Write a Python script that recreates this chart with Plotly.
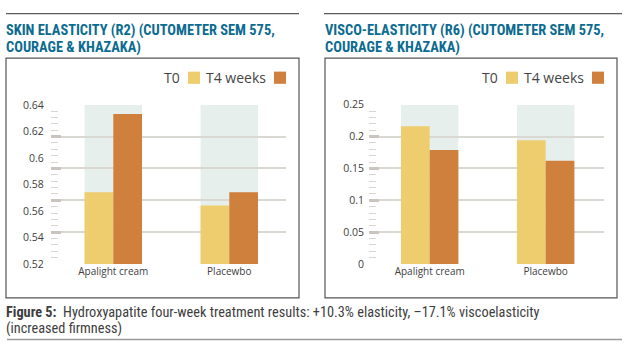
import numpy as np
import plotly.graph_objects as go

# ---------------- data ----------------
categories = ["Apalight cream", "Placewbo"]
series_names = ["T0", "T4 weeks"]

elasticity_t0 = [0.574, 0.564]
elasticity_t4 = [0.633, 0.574]

visco_t0 = [0.216, 0.194]
visco_t4 = [0.179, 0.162]

left_range = [0.52, 0.64]
left_ticklabels = [0.52, 0.54, 0.56, 0.58, 0.60, 0.62, 0.64]
right_range = [0, 0.25]
right_ticklabels = [0, 0.05, 0.1, 0.15, 0.2, 0.25]

left_title = ["SKIN ELASTICITY (R2) (CUTOMETER SEM 575,", "COURAGE &amp; KHAZAKA)"]
right_title = ["VISCO-ELASTICITY (R6) (CUTOMETER SEM 575,", "COURAGE &amp; KHAZAKA)"]
caption = ["<b>Figure 5:</b>  Hydroxyapatite four-week treatment results: +10.3% elasticity, \u201317.1% viscoelasticity",
           "(increased firmness)"]

# ---------------- styles ----------------
W, H = 628, 351
C_T0 = "#EECD6F"
C_T4 = "#D0803D"
C_SHADE = "#E7EFEC"
C_GRID = "#DAD8D3"
C_MAJ = "#C9C5BE"
C_MIN = "#D9D6D1"
C_TEXT = "#3E3E3E"
C_TITLE = "#0B6B90"
FONT = "Open Sans, Lato, sans-serif"
FONT_N = "Roboto Condensed, Noto Sans Condensed, Roboto, sans-serif"
GROUP_W = 0.495


def px(x):
    return x / W


def py(y):
    return 1 - y / H


ydom = [py(267.7), py(101.7)]
xdom_l = [px(51), px(286)]
xdom_r = [px(369), px(604)]

fig = go.Figure()

fig.add_trace(go.Bar(x=categories, y=elasticity_t0, name=series_names[0], marker_color=C_T0,
                     xaxis="x", yaxis="y", showlegend=False))
fig.add_trace(go.Bar(x=categories, y=elasticity_t4, name=series_names[1], marker_color=C_T4,
                     xaxis="x", yaxis="y", showlegend=False))
fig.add_trace(go.Bar(x=categories, y=visco_t0, name=series_names[0], marker_color=C_T0,
                     xaxis="x2", yaxis="y2", showlegend=False))
fig.add_trace(go.Bar(x=categories, y=visco_t4, name=series_names[1], marker_color=C_T4,
                     xaxis="x2", yaxis="y2", showlegend=False))
fig.update_traces(marker_line_width=0)

grid_l = np.linspace(left_range[0], left_range[1], 6)
minor_l = np.linspace(left_range[0], left_range[1], 26)
grid_r = np.linspace(right_range[0], right_range[1], 6)
minor_r = np.linspace(right_range[0], right_range[1], 26)

common_y = dict(showline=False, zeroline=False, showgrid=True, gridcolor=C_GRID, gridwidth=1.5,
                ticks="inside", ticklen=10, tickwidth=2.5, tickcolor=C_MAJ,
                tickfont=dict(family=FONT, size=10.5, color=C_TEXT), domain=ydom)
common_x = dict(type="category", showline=False, showgrid=False, zeroline=False, ticks="",
                tickfont=dict(family=FONT, size=10, color=C_TEXT))

fig.update_layout(
    width=W, height=H, margin=dict(l=0, r=0, t=0, b=0),
    paper_bgcolor="white", plot_bgcolor="rgba(0,0,0,0)",
    barmode="group", bargap=1 - GROUP_W, bargroupgap=0,
    xaxis=dict(common_x, domain=xdom_l, range=[-0.537, 1.489], anchor="y"),
    yaxis=dict(common_y, range=left_range, tickmode="array", tickvals=list(grid_l), showticklabels=False,
               minor=dict(tickmode="array", tickvals=list(minor_l), ticks="inside", ticklen=7,
                          tickwidth=1, tickcolor=C_MIN, showgrid=False), anchor="x"),
    xaxis2=dict(common_x, domain=xdom_r, range=[-0.523, 1.503], anchor="y2"),
    yaxis2=dict(common_y, range=right_range, tickmode="array", tickvals=list(grid_r),
                ticktext=[f"{v:g}" for v in right_ticklabels], ticklabelstandoff=4,
                minor=dict(tickmode="array", tickvals=list(minor_r), ticks="inside", ticklen=7,
                           tickwidth=1, tickcolor=C_MIN, showgrid=False), anchor="x2"),
)

shapes = []
annotations = []

# group shading behind bars
for xa, ya, rng in (("x", "y", left_range), ("x2", "y2", right_range)):
    for i, _ in enumerate(categories):
        shapes.append(dict(type="rect", xref=xa, yref=ya, x0=i - GROUP_W / 2, x1=i + GROUP_W / 2,
                           y0=rng[0], y1=rng[1], fillcolor=C_SHADE, line_width=0, layer="below"))

# left tick labels (spaced independently of the gridlines, as in the original)
for v in left_ticklabels:
    annotations.append(dict(xref="x domain", yref="y", x=0, y=v, xanchor="right", xshift=-5,
                            text=f"{v:g}", showarrow=False,
                            font=dict(family=FONT, size=10.5, color=C_TEXT)))

# panel frames and rules
for x0, x1 in ((6, 299), (325, 617)):
    shapes.append(dict(type="rect", xref="paper", yref="paper", x0=px(x0), x1=px(x1),
                       y0=py(303), y1=py(53.3), line=dict(color="#555555", width=1.2)))
for x0, x1 in ((6, 299), (324, 622)):
    shapes.append(dict(type="line", xref="paper", yref="paper", x0=px(x0), x1=px(x1),
                       y0=py(7), y1=py(7), line=dict(color="#5A5A5A", width=1.2)))
shapes.append(dict(type="line", xref="paper", yref="paper", x0=px(7), x1=px(622),
                   y0=py(346.3), y1=py(346.3), line=dict(color="#9A9A9A", width=1.5)))

# titles (one annotation per line to control line spacing)
for x0, lines in ((5, left_title), (324, right_title)):
    for yc, t in zip((24.8, 42.6), lines):
        annotations.append(dict(xref="paper", yref="paper", x=px(x0), y=py(yc), xanchor="left",
                                yanchor="middle", align="left", text=f"<b>{t}</b>", showarrow=False,
                                borderpad=0, font=dict(family=FONT_N, size=14.4, color=C_TITLE)))

# caption
for yc, t in zip((317.6, 334.6), caption):
    annotations.append(dict(xref="paper", yref="paper", x=px(5), y=py(yc), xanchor="left",
                            yanchor="middle", align="left", text=t, showarrow=False,
                            borderpad=0, font=dict(family=FONT_N, size=14.3, color=C_TEXT)))

# legends (text to the left of the swatch)
for R in (286, 604):
    for name, col, sw_right, txt_right in ((series_names[0], C_T0, R - 86, R - 104),
                                           (series_names[1], C_T4, R, R - 18)):
        shapes.append(dict(type="rect", xref="paper", yref="paper", x0=px(sw_right - 12),
                           x1=px(sw_right), y0=py(80), y1=py(67.3), fillcolor=col, line_width=0))
        annotations.append(dict(xref="paper", yref="paper", x=px(txt_right), y=py(73.6),
                                xanchor="right", yanchor="middle", text=name, showarrow=False,
                                font=dict(family=FONT, size=14, color="#454545")))

fig.update_layout(shapes=shapes, annotations=annotations)
fig.write_html("out.html")
